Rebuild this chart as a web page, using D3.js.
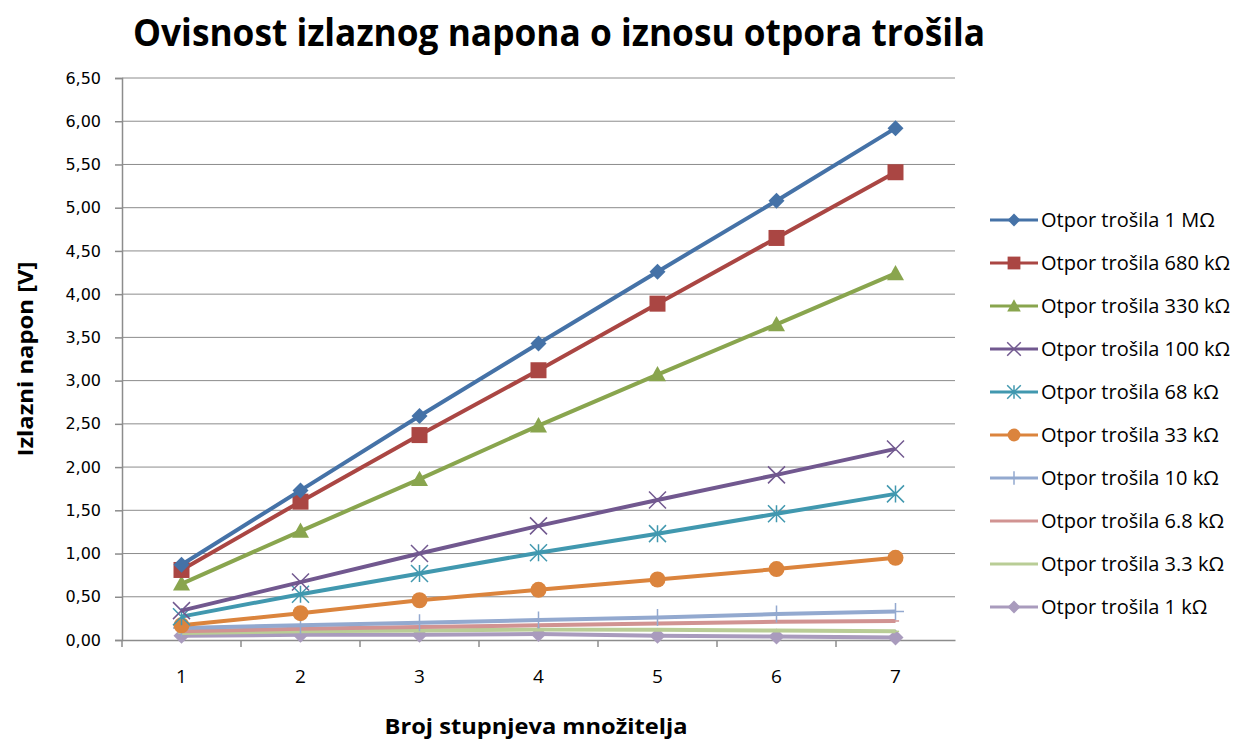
<!DOCTYPE html>
<html>
<head>
<meta charset="utf-8">
<script src="https://cdn.jsdelivr.net/npm/d3@7"></script>
<style>
  body { margin: 0; background: #fff; }
  svg { display: block; }
</style>
</head>
<body>
<svg id="chart" width="1236" height="740"></svg>
<script>
// stupnjevi množitelja
const stages = [1, 2, 3, 4, 5, 6, 7];
const yTicks = [0, 0.5, 1, 1.5, 2, 2.5, 3, 3.5, 4, 4.5, 5, 5.5, 6, 6.5];

const seriesNames = [
  'Otpor trošila 1 MΩ', 'Otpor trošila 680 kΩ', 'Otpor trošila 330 kΩ',
  'Otpor trošila 100 kΩ', 'Otpor trošila 68 kΩ', 'Otpor trošila 33 kΩ',
  'Otpor trošila 10 kΩ', 'Otpor trošila 6.8 kΩ', 'Otpor trošila 3.3 kΩ',
  'Otpor trošila 1 kΩ'
];

const v1M   = [0.87, 1.73, 2.59, 3.43, 4.26, 5.08, 5.92];
const v680k = [0.81, 1.60, 2.37, 3.12, 3.89, 4.65, 5.41];
const v330k = [0.65, 1.26, 1.86, 2.48, 3.07, 3.65, 4.24];
const v100k = [0.34, 0.67, 1.00, 1.32, 1.62, 1.91, 2.21];
const v68k  = [0.27, 0.53, 0.77, 1.01, 1.23, 1.46, 1.69];
const v33k  = [0.17, 0.31, 0.46, 0.58, 0.70, 0.82, 0.95];
const v10k  = [0.14, 0.17, 0.20, 0.23, 0.26, 0.30, 0.33];
const v6k8  = [0.10, 0.13, 0.15, 0.17, 0.19, 0.21, 0.22];
const v3k3  = [0.08, 0.10, 0.11, 0.12, 0.12, 0.11, 0.10];
const v1k   = [0.05, 0.06, 0.06, 0.07, 0.05, 0.04, 0.03];

const seriesValues = [v1M, v680k, v330k, v100k, v68k, v33k, v10k, v6k8, v3k3, v1k];
const colors = ['#4572A7', '#AA4643', '#89A54E', '#71588F', '#4198AF',
                '#DB843D', '#93A9CF', '#D19392', '#B9CD96', '#A99BBD'];
const markers = ['diamond', 'square', 'triangle', 'x', 'star', 'circle',
                 'plus', 'dash', 'dash', 'diamond'];

const svg = d3.select('#chart');
const margin = { top: 78, left: 122, right: 281, bottom: 100 };
const width = 1236 - margin.left - margin.right;
const height = 740 - margin.top - margin.bottom;

const g = svg.append('g')
  .attr('transform', 'translate(' + margin.left + ',' + margin.top + ')');

const x = d3.scaleBand().domain(stages).range([0, width]);
const y = d3.scaleLinear().domain([0, 6.5]).range([height, 0]);

// mreža
g.append('g')
  .selectAll('line')
  .data(yTicks.slice(1))
  .enter().append('line')
  .attr('x1', 0).attr('x2', width)
  .attr('y1', d => y(d)).attr('y2', d => y(d))
  .style('stroke', '#8c8c8c').style('stroke-width', 1);

const fmt = d => d.toFixed(2).replace('.', ',');

const yAxis = g.append('g')
  .call(d3.axisLeft(y).tickValues(yTicks).tickFormat(fmt).tickSize(7).tickPadding(14));
yAxis.selectAll('text')
  .attr('font-size', null).attr('font-family', null)
  .style('font-family', '"DejaVu Sans"').style('font-size', '16px').style('fill', '#000');

// x os s oznakama između kategorija
const xAxis = g.append('g').attr('transform', 'translate(0,' + height + ')')
  .call(d3.axisBottom(x).tickSize(0).tickPadding(30));
xAxis.selectAll('text')
  .style('font-family', '"Open Sans"').style('font-size', '19px').style('fill', '#000');
xAxis.selectAll('.tick').append('line')
  .attr('x1', -x.bandwidth() / 2).attr('x2', -x.bandwidth() / 2)
  .attr('y1', 0).attr('y2', 7);
xAxis.append('line')
  .attr('x1', width).attr('x2', width).attr('y1', 0).attr('y2', 7);
svg.selectAll('.domain, .tick line').style('stroke', '#8c8c8c').style('stroke-width', 1.5);

const line = d3.line()
  .x((d, i) => x(stages[i]) + x.bandwidth() / 2)
  .y(d => y(d));

function markerPath(type, s) {
  const h = s / 2;
  switch (type) {
    case 'diamond': return `M0,${-h}L${h},0L0,${h}L${-h},0Z`;
    case 'square': return `M${-h},${-h}H${h}V${h}H${-h}Z`;
    case 'triangle': return `M0,${-h}L${h},${h * 0.8}H${-h}Z`;
    case 'x': return `M${-h},${-h}L${h},${h}M${h},${-h}L${-h},${h}`;
    case 'star': return `M${-h},${-h}L${h},${h}M${h},${-h}L${-h},${h}M0,${-h}V${h}`;
    case 'plus': return `M0,${-h}V${h}M${-h},0H${h}`;
    case 'dash': return `M${-h * 0.6},0H${h * 0.6}`;
    default: return '';
  }
}

function drawMarker(sel, type, color, s) {
  if (type === 'circle') {
    sel.append('circle').attr('r', s / 2).style('fill', color);
  } else if (type === 'x' || type === 'star' || type === 'plus' || type === 'dash') {
    sel.append('path').attr('d', markerPath(type, s))
      .style('stroke', color).style('stroke-width', 1.5).style('fill', 'none');
  } else {
    sel.append('path').attr('d', markerPath(type, s)).style('fill', color);
  }
}

const markerSize = { diamond: 16, square: 16, triangle: 17, x: 17, star: 17, circle: 16, plus: 17, dash: 12 };

// crtaj od zadnje serije prema prvoj
for (let k = seriesValues.length - 1; k >= 0; k--) {
  const vals = seriesValues[k];
  g.append('path')
    .attr('d', line(vals))
    .style('fill', 'none')
    .style('stroke', colors[k])
    .style('stroke-width', 4)
    .style('stroke-linejoin', 'round');
  vals.forEach((v, i) => {
    const m = g.append('g')
      .attr('transform', 'translate(' + (x(stages[i]) + x.bandwidth() / 2) + ',' + y(v) + ')');
    drawMarker(m, markers[k], colors[k], markerSize[markers[k]]);
  });
}

// legenda
const legend = svg.append('g').attr('transform', 'translate(990,220)');
seriesNames.forEach((name, k) => {
  const row = legend.append('g').attr('transform', 'translate(0,' + k * 43 + ')');
  row.append('line').attr('x1', 0).attr('x2', 48)
    .style('stroke', colors[k]).style('stroke-width', 3);
  const m = row.append('g').attr('transform', 'translate(24,0)');
  drawMarker(m, markers[k], colors[k], markerSize[markers[k]] * 0.8);
  row.append('text').attr('x', 51).attr('dy', '0.36em')
    .style('font', '20px "Open Sans"').style('fill', '#000')
    .text(name);
});

// naslovi
svg.append('text').attr('x', 559).attr('y', 46)
  .attr('text-anchor', 'middle')
  .attr('textLength', 852).attr('lengthAdjust', 'spacingAndGlyphs')
  .style('font', 'bold 37px "Open Sans"')
  .text('Ovisnost izlaznog napona o iznosu otpora trošila');

svg.append('text').attr('x', 536).attr('y', 734)
  .attr('text-anchor', 'middle')
  .attr('textLength', 303).attr('lengthAdjust', 'spacingAndGlyphs')
  .style('font', 'bold 22px "Open Sans"')
  .text('Broj stupnjeva množitelja');

svg.append('text')
  .attr('transform', 'translate(33,359) rotate(-90)')
  .attr('text-anchor', 'middle')
  .attr('textLength', 195).attr('lengthAdjust', 'spacingAndGlyphs')
  .style('font', 'bold 22px "Open Sans"')
  .text('Izlazni napon [V]');
</script>
</body>
</html>
